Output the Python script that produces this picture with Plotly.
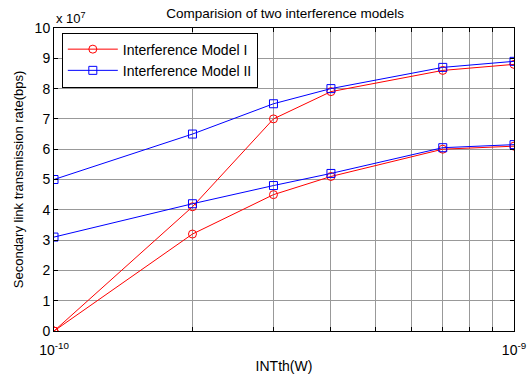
import plotly.graph_objects as go

x_vals = [1e-10, 2e-10, 3e-10, 4e-10, 7e-10, 1e-9]
model1_upper = [0.0, 4.1, 7.0, 7.9, 8.6, 8.8]
model1_lower = [0.0, 3.2, 4.5, 5.1, 6.0, 6.1]
model2_upper = [5.0, 6.5, 7.5, 8.0, 8.7, 8.9]
model2_lower = [3.1, 4.2, 4.8, 5.2, 6.05, 6.15]

x_grid = [1e-10, 2e-10, 3e-10, 4e-10, 5e-10, 6e-10, 7e-10, 8e-10, 9e-10, 1e-9]
x_text = ["10<sup>-10</sup>", "", "", "", "", "", "", "", "", "10<sup>-9</sup>"]
y_ticks = list(range(0, 11))

red = "#ff0000"
blue = "#0000ff"

fig = go.Figure()

def add(y, name, color, symbol, show):
    fig.add_trace(go.Scatter(
        x=x_vals, y=y, mode="lines+markers", name=name,
        line=dict(color=color, width=1),
        marker=dict(symbol=symbol, size=8, color="rgba(255,255,255,0)",
                    line=dict(color=color, width=1)),
        showlegend=show))

add(model1_upper, "Interference Model I", red, "circle", True)
add(model2_upper, "Interference Model II", blue, "square", True)
add(model1_lower, "Interference Model I", red, "circle", False)
add(model2_lower, "Interference Model II", blue, "square", False)

axis_common = dict(showline=True, linecolor="black", linewidth=1, mirror="ticks",
                   ticks="inside", ticklen=4, tickcolor="black", automargin=False,
                   showgrid=True, gridcolor="#999999", gridwidth=1, zeroline=False,
                   tickfont=dict(family="Liberation Sans, Arial", size=14, color="black"))

fig.update_layout(
    width=532, height=374,
    margin=dict(l=54, r=18, t=28, b=43),
    paper_bgcolor="white", plot_bgcolor="white",
    font=dict(family="Liberation Sans, Arial", color="black"),
    title=dict(text="Comparision of two interference models", x=0.536, xanchor="center",
               y=0.965, yanchor="middle", font=dict(size=13.5, color="black")),
    xaxis=dict(type="log", range=[-10, -9], tickvals=x_grid, ticktext=x_text,
               ticklabelstandoff=6,
               title=dict(text="INTth(W)", font=dict(size=14), standoff=4),
               **axis_common),
    yaxis=dict(range=[0, 10], tickvals=y_ticks,
               title=dict(text="Secondary link transmission rate(bps)", font=dict(size=13), standoff=8),
               **axis_common),
    legend=dict(x=0.017, y=0.985, xanchor="left", yanchor="top",
                bgcolor="white", bordercolor="black", borderwidth=1,
                font=dict(size=14, color="black"), tracegroupgap=0,
                itemwidth=50),
    annotations=[dict(text="x 10<sup>7</sup>", xref="paper", yref="paper",
                      x=0.0, y=1.0, xanchor="left", yanchor="bottom",
                      showarrow=False, font=dict(size=13, color="black"))],
)

fig.write_html("out.html")
